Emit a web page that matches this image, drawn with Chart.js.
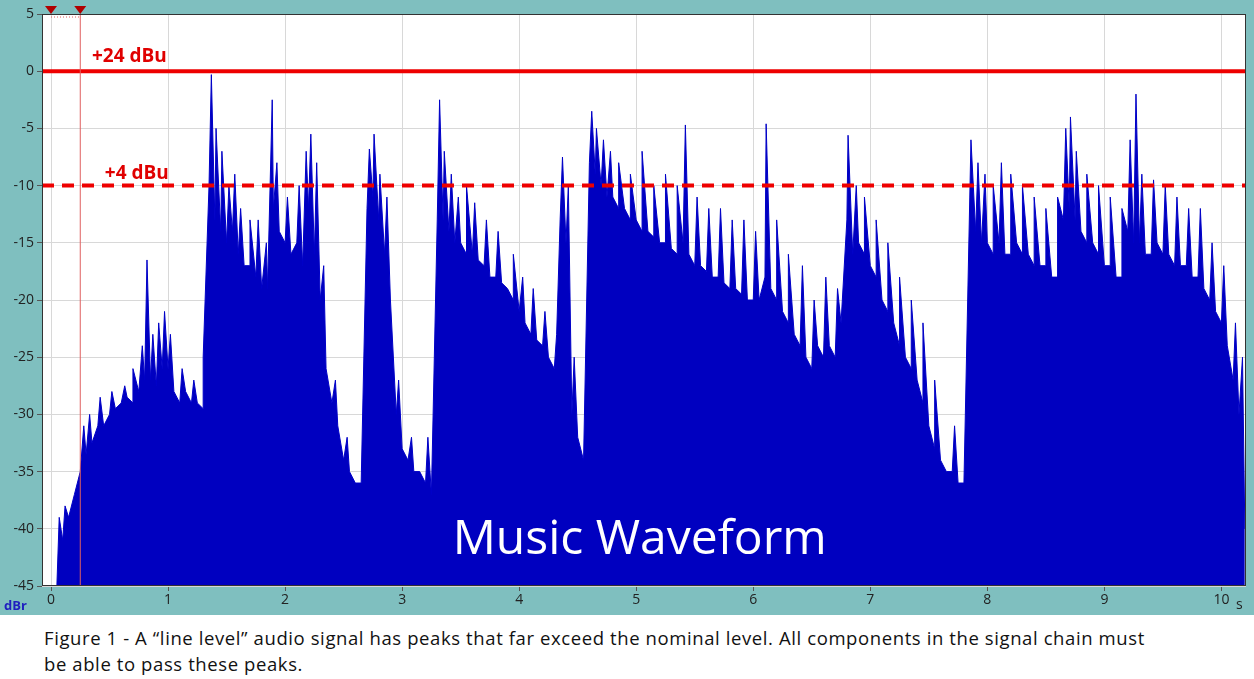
<!DOCTYPE html>
<html><head><meta charset="utf-8">
<script src="https://cdn.jsdelivr.net/npm/chart.js@4/dist/chart.umd.min.js"></script>
<style>
body{margin:0;background:#fff;font-family:"Open Sans",sans-serif;}
#wrap{width:1254px;height:615px;background:#7fbfbf;}
#cap{margin:10px 0 0 44px;font-size:18.5px;line-height:26px;color:#111;width:1200px;letter-spacing:0.6px;white-space:nowrap;}
</style></head><body>
<div id="wrap"><canvas id="c" width="1254" height="615"></canvas></div>
<div id="cap">Figure 1 - A “line level” audio signal has peaks that far exceed the nominal level. All components in the signal chain must<br>be able to pass these peaks.</div>
<script>
const times=[0.05,0.10,0.15,0.20,0.25,0.30,0.35,0.40,0.45,0.50,0.55,0.60,0.65,0.70,0.75,0.80,0.85,0.90,0.95,1.00,1.05,1.10,1.15,1.20,1.25,1.30,1.35,1.40,1.45,1.50,1.55,1.60,1.65,1.70,1.75,1.80,1.85,1.90,1.95,2.00,2.05,2.10,2.15,2.20,2.25,2.30,2.35,2.40,2.45,2.50,2.55,2.60,2.65,2.70,2.75,2.80,2.85,2.90,2.95,3.00,3.05,3.10,3.15,3.20,3.25,3.30,3.35,3.40,3.45,3.50,3.55,3.60,3.65,3.70,3.75,3.80,3.85,3.90,3.95,4.00,4.05,4.10,4.15,4.20,4.25,4.30,4.35,4.40,4.45,4.50,4.55,4.60,4.65,4.70,4.75,4.80,4.85,4.90,4.95,5.00,5.05,5.10,5.15,5.20,5.25,5.30,5.35,5.40,5.45,5.50,5.55,5.60,5.65,5.70,5.75,5.80,5.85,5.90,5.95,6.00,6.05,6.10,6.15,6.20,6.25,6.30,6.35,6.40,6.45,6.50,6.55,6.60,6.65,6.70,6.75,6.80,6.85,6.90,6.95,7.00,7.05,7.10,7.15,7.20,7.25,7.30,7.35,7.40,7.45,7.50,7.55,7.60,7.65,7.70,7.75,7.80,7.85,7.90,7.95,8.00,8.05,8.10,8.15,8.20,8.25,8.30,8.35,8.40,8.45,8.50,8.55,8.60,8.65,8.70,8.75,8.80,8.85,8.90,8.95,9.00,9.05,9.10,9.15,9.20,9.25,9.30,9.35,9.40,9.45,9.50,9.55,9.60,9.65,9.70,9.75,9.80,9.85,9.90,9.95,10.00,10.05,10.10,10.15,10.20];
const levels=[-45,-41,-39,-37,-35,-33.5,-32.5,-31,-31,-30,-29.5,-29,-28.5,-29,-28,-27,-27,-27.5,-26,-26,-28,-29,-28,-29,-29,-29.5,-10,-13,-14,-15,-14,-16,-17,-17,-18,-19,-19,-12,-14,-15,-16,-15,-17,-12,-16,-20,-26,-29,-31,-34,-35,-36,-36,-12,-11,-13,-16,-20,-30,-33,-34,-35,-35,-36,-37,-13,-13,-14,-15,-15,-16,-16,-16.5,-17,-18,-18,-18.5,-19,-20,-21,-22,-23,-23.5,-24,-25,-26,-13,-15,-30,-32,-34,-8,-9,-10,-11,-11,-12,-12,-13,-13,-14,-14,-14.5,-15,-15,-15.5,-16,-15,-16,-17,-17,-17.5,-18,-18,-18.5,-19,-19,-19.5,-20,-20,-20,-18,-19,-20,-21,-22,-23,-24,-25,-26,-24,-25,-24,-25,-22,-13,-16,-15,-16,-17,-18,-20,-21,-22,-24,-25,-26,-27,-29,-31,-33,-34,-35,-35,-36,-36,-11,-14,-15,-15,-16,-15,-16,-16,-15,-16,-16,-17,-17,-17,-18,-18,-13,-12,-13,-14,-15,-15,-16,-17,-17,-18,-18,-14,-15,-15,-16,-16,-15,-16,-16,-17,-17,-17,-18,-18,-19,-20,-21,-22,-24,-27,-30,-40];
const spikeTimes=[0.07,0.12,0.28,0.33,0.42,0.52,0.63,0.70,0.78,0.82,0.87,0.92,0.97,1.02,1.12,1.22,1.30,1.37,1.41,1.46,1.52,1.57,1.62,1.70,1.77,1.84,1.89,1.93,2.02,2.12,2.18,2.22,2.27,2.33,2.43,2.53,2.72,2.76,2.81,2.87,2.97,3.08,3.22,3.32,3.36,3.42,3.48,3.55,3.62,3.72,3.82,3.95,4.03,4.12,4.22,4.32,4.37,4.42,4.47,4.62,4.66,4.72,4.78,4.85,4.95,5.05,5.15,5.25,5.35,5.42,5.52,5.62,5.72,5.82,5.92,6.02,6.11,6.20,6.30,6.42,6.52,6.62,6.72,6.81,6.88,6.95,7.05,7.15,7.25,7.35,7.45,7.55,7.72,7.86,7.92,7.98,8.05,8.12,8.20,8.30,8.40,8.50,8.60,8.67,8.71,8.76,8.85,8.95,9.05,9.15,9.22,9.27,9.32,9.42,9.52,9.62,9.72,9.82,9.92,10.02,10.12,10.18];
const spikeLevels=[-39,-38,-31,-30,-28.5,-28,-27.5,-26,-24,-16.5,-23,-22,-21,-23,-26,-27,-25,-0.3,-5,-7,-10,-9,-12,-13,-13,-15,-2.5,-8,-11,-10,-7,-5.5,-8,-17,-27,-32,-6.8,-5.5,-9,-11,-27,-32,-32,-2.5,-7,-9,-11,-10,-11.5,-13,-14,-16,-18,-19,-21,-23,-7.5,-10,-25,-3.5,-5,-6,-7,-8,-9,-7,-10,-9,-10,-4.7,-11,-12,-12,-13,-13,-14,-4.6,-13,-16,-17,-20,-18,-19,-5.6,-10,-11,-13,-15,-18,-20,-22,-27,-31,-6,-8,-9,-10,-8,-9,-10,-11,-12,-11,-5,-4,-7,-9,-10,-11,-12,-6,-2,-9,-9.5,-10,-11,-12,-12,-15,-17,-22,-25];
const yTicks=[5,0,-5,-10,-15,-20,-25,-30,-35,-40,-45];
const xTicks=[0,1,2,3,4,5,6,7,8,9,10];

const wave=times.map((t,i)=>({x:t,y:levels[i]})).concat(spikeTimes.map((t,i)=>({x:t,y:spikeLevels[i]}))).sort((a,b)=>a.x-b.x);
const XMIN=-0.077,XMAX=10.21;
const extras={id:'extras',afterDraw(c){
  const g=c.ctx,a=c.chartArea,xs=c.scales.x,ys=c.scales.y;
  g.save();
  g.fillStyle='#e00000';g.font='bold 19px "Open Sans",sans-serif';g.textAlign='left';g.textBaseline='alphabetic';
  g.fillText('+24 dBu',xs.getPixelForValue(0.35),ys.getPixelForValue(0)-9);
  g.fillText('+4 dBu',xs.getPixelForValue(0.46),ys.getPixelForValue(-10)-7);
  g.fillStyle='#fff';g.font='48px "Open Sans",sans-serif';g.textAlign='center';
  g.fillText('Music Waveform',xs.getPixelForValue(5.03),ys.getPixelForValue(-42.2));
  g.fillStyle='#2020c0';g.font='bold 13px "Open Sans",sans-serif';g.textAlign='left';
  g.fillText('dBr',4,a.bottom+24);
  g.fillStyle='#222';g.font='14px "Open Sans",sans-serif';
  g.fillText('s',a.right-10,a.bottom+23);
  g.strokeStyle='#e06060';g.lineWidth=1;
  const cx=xs.getPixelForValue(0.25),c0=xs.getPixelForValue(0);
  g.beginPath();g.moveTo(cx,a.top);g.lineTo(cx,a.bottom);g.stroke();
  g.setLineDash([1,2]);g.beginPath();g.moveTo(c0,a.top+3);g.lineTo(cx,a.top+3);g.stroke();g.setLineDash([]);
  g.fillStyle='#b00000';
  [c0,cx].forEach(p=>{g.beginPath();g.moveTo(p-6,a.top-8);g.lineTo(p+6,a.top-8);g.lineTo(p,a.top);g.closePath();g.fill();});
  g.strokeStyle='#333';g.strokeRect(a.left+0.5,a.top+0.5,a.right-a.left-1,a.bottom-a.top-1);
  g.restore();
}};
new Chart(document.getElementById('c'),{
  type:'line',
  data:{datasets:[
    {data:[{x:XMIN,y:0},{x:XMAX,y:0}],borderColor:'#ee0000',borderWidth:4,pointRadius:0,order:0},
    {data:[{x:XMIN,y:-10},{x:XMAX,y:-10}],borderColor:'#ee0000',borderWidth:4,borderDash:[12,8],pointRadius:0,order:0},
    {data:wave,borderColor:'#0000c8',backgroundColor:'#0000c0',borderWidth:1,fill:'start',pointRadius:0,tension:0,order:1}
  ]},
  options:{responsive:false,animation:false,
    layout:{padding:{top:14,right:8,left:0,bottom:0}},
    plugins:{legend:{display:false},tooltip:{enabled:false}},
    scales:{
      x:{type:'linear',min:XMIN,max:XMAX,
        afterBuildTicks(s){s.ticks=xTicks.map(v=>({value:v}));},
        afterFit(s){s.height=29;},
        grid:{color:'#d8d8d8',drawTicks:true,tickLength:5,tickColor:'#555'},border:{display:false},
        ticks:{color:'#222',font:{size:14,family:'"Open Sans",sans-serif'},padding:1,maxRotation:0}},
      y:{min:-45,max:5,
        afterBuildTicks(s){s.ticks=yTicks.map(v=>({value:v}));},
        afterFit(s){s.width=42;},
        grid:{color:'#d8d8d8',tickLength:5,tickColor:'#555'},border:{display:false},
        ticks:{color:'#222',font:{size:14,family:'"Open Sans",sans-serif'},padding:3}}
    }},
  plugins:[{id:'bg',beforeDraw(c){const g=c.ctx,a=c.chartArea;g.save();g.fillStyle='#fff';g.fillRect(a.left,a.top,a.right-a.left,a.bottom-a.top);g.restore();}},extras]
});
</script></body></html>
